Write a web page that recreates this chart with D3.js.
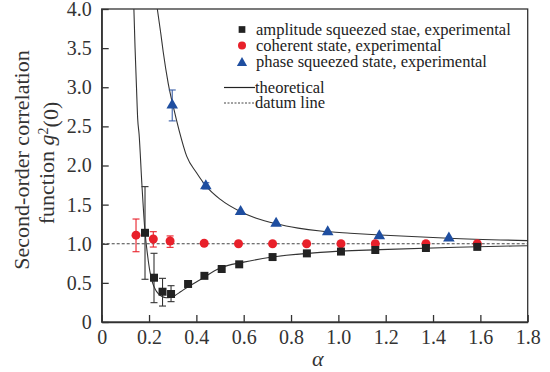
<!DOCTYPE html>
<html lang="en">
<head>
<meta charset="UTF-8">
<title>g2(0) vs alpha</title>
<script src="https://d3js.org/d3.v7.min.js"></script>
<style>
body { margin: 0; background: #fff; }
svg { display: block; font-family: "Liberation Serif", serif; }
.axis path, .axis line { stroke: #333; stroke-width: 1.3; }
.axis text { font-family: "Liberation Serif", serif; font-size: 20px; fill: #333; }
</style>
</head>
<body>
<script>
var width = 550, height = 372;
var margin = {top: 9, right: 22.3, bottom: 50, left: 101.7};

// amplitude squeezed state: alpha, g2, error low, error high
var ampAlpha = [0.183, 0.221, 0.257, 0.293, 0.365, 0.434, 0.507, 0.581, 0.722, 0.867, 1.011, 1.156, 1.37, 1.587];
var ampG     = [1.14, 0.566, 0.387, 0.358, 0.486, 0.59, 0.677, 0.737, 0.83, 0.877, 0.90, 0.92, 0.946, 0.96];
var ampLo    = [0.546, 0.247, 0.204, 0.26, null, null, null, null, null, null, null, null, null, null];
var ampHi    = [1.73, 0.878, 0.558, 0.464, null, null, null, null, null, null, null, null, null, null];

// coherent state
var cohAlpha = [0.145, 0.218, 0.289, 0.433, 0.578, 0.722, 0.866, 1.011, 1.156, 1.37, 1.587];
var cohG     = [1.11, 1.06, 1.035, 1.006, 1.0, 1.0, 1.0, 1.0, 1.0, 1.0, 1.0];
var cohLo    = [0.898, 0.958, 0.954, null, null, null, null, null, null, null, null];
var cohHi    = [1.316, 1.154, 1.10, null, null, null, null, null, null, null, null];

// phase squeezed state
var phAlpha = [0.298, 0.44, 0.587, 0.737, 0.955, 1.173, 1.467];
var phG     = [2.77, 1.74, 1.41, 1.26, 1.15, 1.10, 1.07];
var phLo    = [2.57, 1.70, null, null, null, null, null];
var phHi    = [2.965, 1.78, null, null, null, null, null];

// theoretical curves
var thAmpAlpha = [0.136, 0.141, 0.147, 0.152, 0.158, 0.170, 0.183, 0.194, 0.204, 0.215, 0.226, 0.240, 0.255, 0.272, 0.290, 0.31, 0.335, 0.365, 0.416, 0.5, 0.6, 0.72, 0.924, 1.176, 1.5, 1.8];
var thAmpG     = [4.0, 3.5, 3.0, 2.6, 2.4, 1.75, 1.15, 0.85, 0.64, 0.50, 0.42, 0.36, 0.325, 0.31, 0.315, 0.34, 0.39, 0.45, 0.54, 0.69, 0.765, 0.83, 0.89, 0.925, 0.955, 0.975];
var thPhAlpha = [0.235, 0.25, 0.26, 0.281, 0.305, 0.327, 0.359, 0.4, 0.44, 0.5, 0.587, 0.65, 0.737, 0.83, 0.924, 1.05, 1.176, 1.467, 1.8];
var thPhG     = [4.0, 3.68, 3.45, 3.05, 2.72, 2.45, 2.12, 1.91, 1.74, 1.57, 1.41, 1.33, 1.255, 1.2, 1.163, 1.135, 1.112, 1.07, 1.04];

var xTicks = [0, 0.2, 0.4, 0.6, 0.8, 1.0, 1.2, 1.4, 1.6, 1.8];
var yTicks = [0, 0.5, 1.0, 1.5, 2.0, 2.5, 3.0, 3.5, 4.0];

var legendLabels = ["amplitude squeezed stae, experimental", "coherent state, experimental",
                    "phase squeezed state, experimental", "theoretical", "datum line"];

var cBlack = "#222222", cRed = "#e8202a", cBlue = "#1f4ea0";

var svg = d3.select("body").append("svg")
    .attr("width", width)
    .attr("height", height);

var x = d3.scaleLinear().domain([0, 1.8]).range([margin.left, width - margin.right]);
var y = d3.scaleLinear().domain([0, 4]).range([height - margin.bottom, margin.top]);

var fmt = function(d) { return d === 0 ? "0" : d3.format(".1f")(d); };

// clip so curves stop at the frame
svg.append("clipPath").attr("id", "clip")
  .append("rect")
    .attr("x", x(0)).attr("y", y(4))
    .attr("width", x(1.8) - x(0)).attr("height", y(0) - y(4));

// axes
svg.append("g")
    .attr("class", "axis")
    .attr("transform", "translate(0," + y(0) + ")")
    .call(d3.axisBottom(x).tickValues(xTicks).tickFormat(fmt).tickSizeInner(-7).tickSizeOuter(0).tickPadding(8));

svg.append("g")
    .attr("class", "axis")
    .attr("transform", "translate(" + x(0) + ",0)")
    .call(d3.axisLeft(y).tickValues(yTicks).tickFormat(fmt).tickSizeInner(-7).tickSizeOuter(0).tickPadding(10));

// frame
svg.append("rect")
    .attr("x", x(0)).attr("y", y(4))
    .attr("width", x(1.8) - x(0)).attr("height", y(0) - y(4))
    .attr("fill", "none").attr("stroke", "#333").attr("stroke-width", 1.3);

// datum line
svg.append("line")
    .attr("x1", x(0)).attr("x2", x(1.8))
    .attr("y1", y(1)).attr("y2", y(1))
    .attr("stroke", "#444").attr("stroke-width", 1).attr("stroke-dasharray", "3,2");

// theoretical curves
var line = d3.line().x(function(d) { return x(d[0]); }).y(function(d) { return y(d[1]); }).curve(d3.curveMonotoneX);
var plot = svg.append("g").attr("clip-path", "url(#clip)");
plot.append("path").datum(d3.zip(thAmpAlpha, thAmpG))
    .attr("d", line).attr("fill", "none").attr("stroke", "#333").attr("stroke-width", 1.1);
plot.append("path").datum(d3.zip(thPhAlpha, thPhG))
    .attr("d", line).attr("fill", "none").attr("stroke", "#333").attr("stroke-width", 1.1);

// error bars
function errorBars(xs, lo, hi, color) {
  var d = d3.zip(xs, lo, hi).filter(function(e) { return e[1] !== null; });
  var g = svg.append("g").attr("stroke", color).attr("stroke-width", 1.1);
  g.selectAll(".v").data(d).enter().append("line")
    .attr("x1", function(e) { return x(e[0]); }).attr("x2", function(e) { return x(e[0]); })
    .attr("y1", function(e) { return y(e[1]); }).attr("y2", function(e) { return y(e[2]); });
  [1, 2].forEach(function(k) {
    g.selectAll(".c" + k).data(d).enter().append("line")
      .attr("x1", function(e) { return x(e[0]) - 3.5; }).attr("x2", function(e) { return x(e[0]) + 3.5; })
      .attr("y1", function(e) { return y(e[k]); }).attr("y2", function(e) { return y(e[k]); });
  });
}
errorBars(ampAlpha, ampLo, ampHi, "#333");
errorBars(cohAlpha, cohLo, cohHi, cRed);
errorBars(phAlpha, phLo, phHi, "#3a5fa8");

// markers
var sq = d3.symbol().type(d3.symbolSquare).size(64);
var tri = d3.symbol().type(d3.symbolTriangle).size(58);

svg.append("g").selectAll("path").data(d3.zip(phAlpha, phG)).enter().append("path")
    .attr("d", tri).attr("fill", cBlue)
    .attr("transform", function(d) { return "translate(" + x(d[0]) + "," + y(d[1]) + ")"; });

svg.append("g").selectAll("circle").data(d3.zip(cohAlpha, cohG)).enter().append("circle")
    .attr("cx", function(d) { return x(d[0]); }).attr("cy", function(d) { return y(d[1]); })
    .attr("r", 4.5).attr("fill", cRed);

svg.append("g").selectAll("path").data(d3.zip(ampAlpha, ampG)).enter().append("path")
    .attr("d", sq).attr("fill", cBlack)
    .attr("transform", function(d) { return "translate(" + x(d[0]) + "," + y(d[1]) + ")"; });

// legend
var legRows = [29.5, 45.5, 62, 87.5, 103];
var leg = svg.append("g").style("font-size", "16.5px").attr("fill", "#222");
leg.append("path").attr("d", d3.symbol().type(d3.symbolSquare).size(45))
    .attr("transform", "translate(242," + legRows[0] + ")").attr("fill", cBlack);
leg.append("circle").attr("cx", 242).attr("cy", legRows[1]).attr("r", 4).attr("fill", cRed);
leg.append("path").attr("d", d3.symbol().type(d3.symbolTriangle).size(45))
    .attr("transform", "translate(242," + (legRows[2] + 1) + ")").attr("fill", cBlue);
leg.append("line").attr("x1", 224).attr("x2", 255).attr("y1", legRows[3]).attr("y2", legRows[3])
    .attr("stroke", "#222").attr("stroke-width", 1.2);
leg.append("line").attr("x1", 224).attr("x2", 255).attr("y1", legRows[4]).attr("y2", legRows[4])
    .attr("stroke", "#444").attr("stroke-width", 1).attr("stroke-dasharray", "2,1.5");
leg.selectAll("text").data(legendLabels).enter().append("text")
    .attr("x", function(d, i) { return i < 3 ? 256 : 255; })
    .attr("y", function(d, i) { return legRows[i]; })
    .attr("dy", "0.33em")
    .text(function(d) { return d; });

// axis titles
svg.append("text")
    .attr("x", (x(0) + x(1.8)) / 2 + 3).attr("y", 359).attr("dy", "0.33em")
    .attr("text-anchor", "middle").style("font-size", "22px").style("font-style", "italic").attr("fill", "#333")
    .text("α");

svg.append("text")
    .attr("transform", "translate(22,160) rotate(-90)")
    .attr("text-anchor", "middle").attr("dy", "0.33em").style("font-size", "22px").attr("fill", "#333")
    .text("Second-order correlation");

var yt2 = svg.append("text")
    .attr("transform", "translate(47,163) rotate(-90)")
    .attr("text-anchor", "middle").attr("dy", "0.33em").style("font-size", "22px").attr("fill", "#333");
yt2.append("tspan").text("function ");
yt2.append("tspan").style("font-style", "italic").text("g");
yt2.append("tspan").attr("dy", "-0.45em").style("font-size", "14px").text("2");
yt2.append("tspan").attr("dy", "0.45em").text("(0)");
</script>
</body>
</html>
